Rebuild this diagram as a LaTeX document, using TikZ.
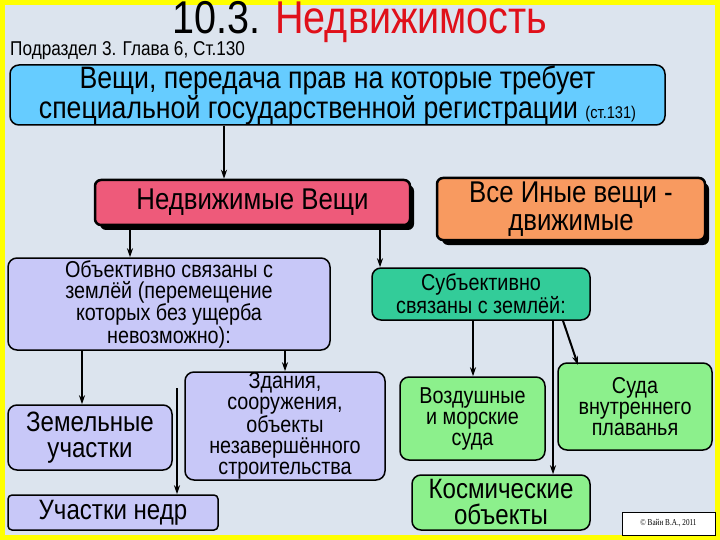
\documentclass[tikz,border=0pt]{standalone}
\usepackage{fontspec}
\setmainfont{Liberation Sans}[FakeStretch=0.86]
\newfontfamily\serifcopy{Liberation Serif}[FakeStretch=0.8]
\usetikzlibrary{arrows.meta}
\definecolor{bg}{HTML}{DCE4EE}
\definecolor{ylw}{HTML}{FFFF00}
\definecolor{skyb}{HTML}{66CCFF}
\definecolor{pinkb}{HTML}{EE5A7A}
\definecolor{orb}{HTML}{F89A60}
\definecolor{lavb}{HTML}{C8C8F8}
\definecolor{tealb}{HTML}{33CC99}
\definecolor{lgb}{HTML}{8CF08C}
\definecolor{redt}{HTML}{E0101A}
\tikzset{
  x=1pt,y=-1pt,
  bx/.style={draw=black,line width=1.5pt,rounded corners=9pt,align=center,inner sep=0pt,font=\fontsize{23}{21}\selectfont},
  big/.style={font=\fontsize{28}{26}\selectfont},
  sh/.style={bx,line width=2.5pt,rounded corners=6pt,font=\fontsize{30}{28}\selectfont},
  ar/.style={-{Stealth[length=9pt,width=6pt]},line width=2pt}
}
\newcommand{\bxat}[7]{% name, x1,y1,x2,y2, style, text
  \node[#6,minimum width={#4-#2},minimum height={#5-#3}] (#1) at ({(#2+#4)/2},{(#3+#5)/2}) {#7};}
\begin{document}
\begin{tikzpicture}
\fill[ylw] (0,0) rectangle (720,540);
\fill[bg] (5,5) rectangle (715,535);
\useasboundingbox (0,0) rectangle (720,540);
\node (title) at (360,22) {\fontsize{46}{46}\selectfont 10.3. \textcolor{redt}{Недвижимость}};
\node[anchor=west,inner sep=0pt] (sub) at (10,51) {\fontsize{20}{20}\selectfont Подраздел 3. Глава 6, Ст.130};
\bxat{top}{10}{65}{665}{125}{bx,fill=skyb,font=\fontsize{31}{30}\selectfont}{Вещи, передача прав на которые требует\\специальной государственной регистрации {\fontsize{17}{17}\selectfont(ст.131)}}
\fill[black,rounded corners=6pt] (100,185) rectangle (414,230);
\bxat{nedv}{95}{180}{410}{225}{sh,fill=pinkb}{Недвижимые Вещи}
\fill[black,rounded corners=6pt] (442,183) rectangle (709,245);
\bxat{inye}{437}{178}{705}{240}{sh,fill=orb}{Все Иные вещи -\\движимые}
\bxat{obj}{8}{258}{330}{350}{bx,fill=lavb}{Объективно связаны с\\землёй (перемещение\\которых без ущерба\\невозможно):}
\bxat{subj}{372}{268}{590}{320}{bx,fill=tealb}{Субъективно\\связаны с землёй:}
\bxat{zem}{8}{405}{172}{470}{bx,big,fill=lavb}{Земельные\\участки}
\bxat{nedr}{8}{495}{218}{530}{bx,big,fill=lavb,rounded corners=4pt}{Участки недр}
\bxat{zd}{185}{372}{385}{480}{bx,fill=lavb}{Здания,\\сооружения,\\объекты\\незавершённого\\строительства}
\bxat{vozd}{400}{377}{545}{460}{bx,fill=lgb}{Воздушные\\и морские\\суда}
\bxat{suda}{558}{363}{712}{450}{bx,fill=lgb}{Суда\\внутреннего\\плаванья}
\bxat{kosm}{412}{475}{590}{530}{bx,big,fill=lgb}{Космические\\объекты}
\bxat{copy}{622}{512}{715}{535}{draw=black,line width=0.8pt,fill=white,inner sep=0pt,font=\serifcopy\fontsize{9}{9}\selectfont}{© Вайн В.А., 2011}
\draw[ar] (top.south -| 224,0) -- (nedv.north -| 224,0);
\draw[ar] (nedv.south -| 130,0) -- (obj.north -| 130,0);
\draw[ar] (nedv.south -| 380,0) -- (subj.north -| 380,0);
\draw[ar] (obj.south -| 82,0) -- (zem.north -| 82,0);
\coordinate (nedrtop) at (177,388);
\draw[ar] (nedrtop) -- (nedr.north -| 177,0);
\draw[ar] (obj.south -| 285,0) -- (zd.north -| 285,0);
\draw[ar] (subj.south -| 473,0) -- (vozd.north -| 473,0);
\draw[ar] (subj.south -| 553,0) -- (kosm.north -| 553,0);
\draw[ar] (subj.south -| 563,0) -- (578,365);
\end{tikzpicture}
\end{document}
